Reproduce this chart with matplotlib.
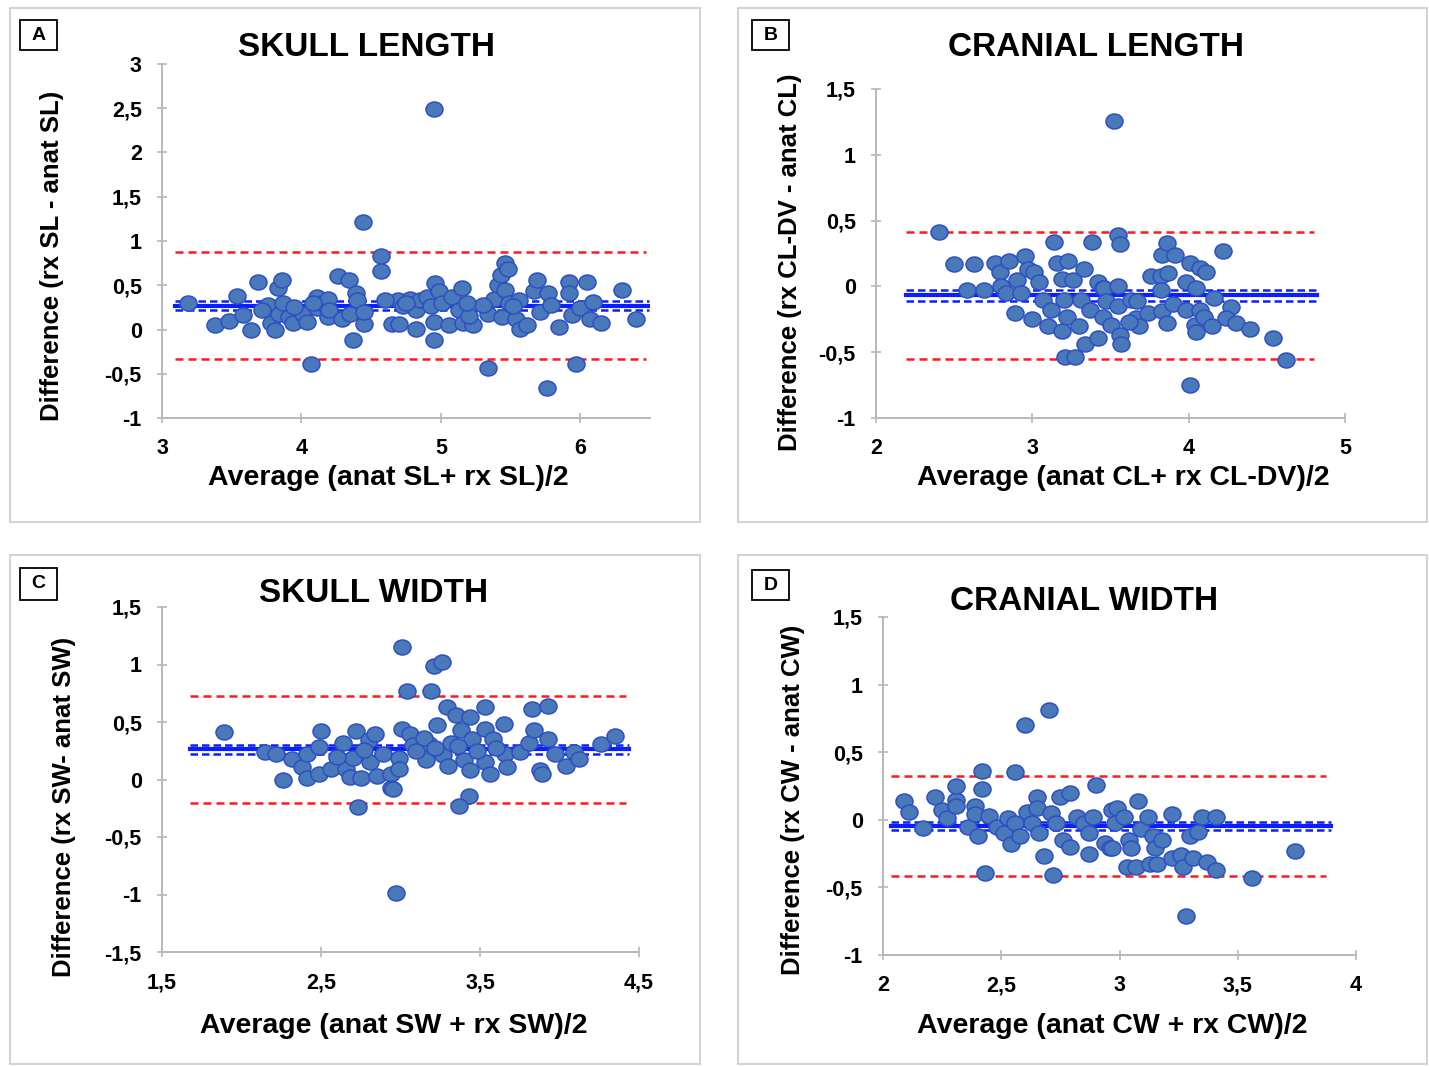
import matplotlib
matplotlib.use("Agg")
import matplotlib.pyplot as plt
from matplotlib.patches import Rectangle
from matplotlib.path import Path
from matplotlib.ticker import FuncFormatter
import numpy as np

W, H = 1429, 1066

# ---------------- DATA ----------------
# Panel A: Skull length
a_x = [3.19, 3.38, 3.48, 3.54, 3.58, 3.64, 3.69, 3.76, 3.78, 3.81, 3.83, 3.86, 3.84, 3.87, 3.91,
       3.94, 4.01, 4.04, 4.07, 4.11, 4.11, 4.14, 4.19, 4.19, 4.20, 4.26, 4.29, 4.34, 4.35, 4.37,
       4.39, 4.40, 4.44, 4.45, 4.57, 4.57, 4.65, 4.70, 4.69, 4.73, 4.78, 4.82, 4.82, 4.85, 4.90,
       4.95, 4.95, 4.95, 4.96, 4.93, 4.99, 5.01, 5.06, 5.08, 5.13, 5.15, 5.16, 5.23, 5.34, 5.34,
       5.38, 5.41, 5.43, 5.46, 5.48, 5.44, 5.46, 5.49, 5.54, 5.56, 5.57, 5.62, 5.67, 5.69, 5.71,
       5.76, 5.77, 5.79, 5.85, 5.92, 5.92, 5.94, 5.97, 6.00, 6.05, 6.07, 6.09, 6.15, 6.30, 6.40,
       4.60, 4.75, 5.20, 5.30, 3.95, 4.45, 5.19, 3.72, 4.08, 5.52]
a_y = [0.30, 0.05, 0.10, 0.38, 0.16, 0.00, 0.54, 0.28, 0.07, -0.01, 0.47, 0.56, 0.18, 0.30, 0.14,
       0.07, 0.18, 0.09, -0.39, 0.37, 0.24, 0.30, 0.35, 0.14, 0.22, 0.61, 0.12, 0.56, 0.18, -0.12,
       0.41, 0.33, 1.22, 0.06, 0.83, 0.66, 0.06, 0.06, 0.33, 0.26, 0.35, 0.01, 0.22, 0.33, 0.37,
       2.49, 0.09, -0.12, 0.53, 0.26, 0.43, 0.30, 0.05, 0.37, 0.22, 0.47, 0.07, 0.05, 0.18, -0.43,
       0.35, 0.50, 0.62, 0.75, 0.68, 0.14, 0.45, 0.30, 0.12, 0.33, 0.01, 0.05, 0.43, 0.56, 0.20,
       -0.66, 0.41, 0.28, 0.03, 0.54, 0.41, 0.16, -0.39, 0.24, 0.54, 0.12, 0.31, 0.07, 0.45, 0.12,
       0.33, 0.30, 0.15, 0.28, 0.25, 0.20, 0.30, 0.22, 0.30, 0.26]

# Panel B: Cranial length
b_x = [2.40, 2.50, 2.63, 2.58, 2.69, 2.76, 2.79, 2.85, 2.80, 2.83, 2.90, 2.95, 2.97, 3.01, 2.89,
       2.93, 3.00, 3.04, 3.07, 3.10, 3.12, 3.14, 3.16, 3.19, 3.20, 3.19, 3.22, 3.23, 3.21, 3.27,
       3.26, 3.30, 3.31, 3.33, 3.34, 3.37, 3.38, 3.42, 3.42, 3.45, 3.45, 3.52, 3.55, 3.56, 3.46,
       3.55, 3.47, 3.55, 3.50, 3.56, 3.57, 3.63, 3.67, 3.66, 3.68, 3.62, 3.74, 3.76, 3.82, 3.82,
       3.83, 3.86, 3.91, 3.87, 3.83, 3.86, 3.90, 3.98, 3.98, 4.01, 4.05, 4.07, 4.11, 4.04, 4.05,
       4.07, 4.10, 4.15, 4.16, 4.22, 4.27, 4.24, 4.30, 4.39, 4.54, 4.62, 4.01]
b_y = [0.41, 0.17, 0.17, -0.03, -0.03, 0.18, 0.11, 0.19, 0.00, -0.05, 0.05, 0.23, 0.13, 0.11, -0.20,
       -0.05, -0.25, 0.03, -0.10, -0.30, -0.18, 0.34, 0.18, 0.06, -0.10, -0.34, -0.23, 0.19, -0.54, -0.54,
       0.05, -0.30, -0.10, 0.13, -0.44, -0.18, 0.34, -0.39, 0.03, -0.01, -0.23, 1.26, 0.39, 0.32, -0.01,
       0.00, -0.11, -0.15, -0.29, -0.37, -0.44, -0.10, -0.11, -0.24, -0.30, -0.27, -0.20, 0.08, 0.08, -0.03,
       0.24, 0.33, 0.24, 0.10, -0.19, -0.28, -0.13, -0.18, 0.03, 0.18, -0.01, 0.14, 0.11, -0.29, -0.35,
       -0.18, -0.23, -0.30, -0.09, 0.27, -0.16, -0.24, -0.28, -0.32, -0.39, -0.56, -0.75]

# Panel C: Skull width
c_x = [1.89, 2.15, 2.22, 2.26, 2.32, 2.38, 2.41, 2.41, 2.49, 2.50, 2.49, 2.56, 2.64, 2.66, 2.68,
       2.72, 2.75, 2.73, 2.70, 2.80, 2.81, 2.84, 2.85, 2.89, 2.94, 2.94,
       3.01, 3.21, 3.26, 3.04, 3.19, 2.97, 3.01, 3.06, 3.08, 2.99, 2.99, 2.95, 3.16, 3.18, 3.23,
       3.27, 3.29, 3.35, 3.32, 3.38, 3.40, 3.43, 3.37, 3.44, 3.44, 3.45, 3.53, 3.53, 3.53, 3.56,
       3.58, 3.65, 3.66, 3.67, 3.75, 3.81, 3.83, 3.84, 3.88, 3.89, 3.93, 3.93, 3.97, 4.04, 4.09,
       4.12, 4.26, 4.35, 3.10, 3.15, 3.22, 3.30, 3.36, 3.48, 3.60, 2.60, 2.77]
c_y = [0.41, 0.24, 0.22, 0.00, 0.18, 0.11, 0.22, 0.01, 0.28, 0.42, 0.05, 0.09, 0.32, 0.09, 0.02,
       0.42, 0.01, -0.24, 0.19, 0.34, 0.15, 0.40, 0.03, 0.22, 0.05, -0.07,
       1.15, 0.99, 1.02, 0.77, 0.77, -0.99, 0.44, 0.40, 0.30, 0.19, 0.09, -0.08, 0.17, 0.31, 0.47,
       0.21, 0.63, 0.56, 0.32, 0.43, 0.17, -0.14, -0.23, 0.54, 0.08, 0.35, 0.63, 0.44, 0.15, 0.05,
       0.35, 0.48, 0.22, 0.11, 0.24, 0.32, 0.61, 0.43, 0.08, 0.05, 0.64, 0.35, 0.22, 0.12, 0.24,
       0.18, 0.31, 0.38, 0.25, 0.36, 0.27, 0.12, 0.29, 0.25, 0.27, 0.20, 0.26]

# Panel D: Cranial width
d_x = [2.09, 2.11, 2.17, 2.22, 2.25, 2.27, 2.31, 2.31, 2.31, 2.36, 2.39, 2.39, 2.40, 2.42, 2.42,
       2.43, 2.45, 2.48, 2.51, 2.54, 2.53, 2.56, 2.56, 2.58, 2.60, 2.61, 2.65, 2.65, 2.63, 2.66,
       2.68, 2.70, 2.71, 2.72, 2.73, 2.75, 2.79, 2.76, 2.79, 2.82, 2.85, 2.87, 2.87, 2.90, 2.89,
       2.94, 2.96, 2.97,
       2.99, 2.98, 2.97, 3.02, 3.04, 3.05, 3.03, 3.07, 3.08, 3.09, 3.12, 3.14, 3.15, 3.13, 3.16,
       3.18, 3.22, 3.22, 3.26, 3.27, 3.28, 3.30, 3.31, 3.33, 3.35, 3.37, 3.41, 3.41, 3.56, 3.74]
d_y = [0.14, 0.06, -0.06, 0.17, 0.07, 0.01, 0.15, 0.25, 0.10, -0.05, 0.10, 0.04, -0.12, 0.36, 0.23,
       -0.39, 0.03, -0.05, -0.10, -0.18, 0.01, 0.35, -0.02, -0.12, 0.70, 0.06, 0.17, 0.09, -0.02, -0.10,
       -0.27, 0.81, 0.05, -0.41, -0.02, 0.17, 0.20, -0.15, -0.20, 0.02, -0.02, -0.10, -0.25, 0.26, 0.02,
       -0.17, -0.21, 0.07,
       0.09, -0.02, -0.21, 0.02, -0.15, -0.21, -0.35, -0.35, 0.14, -0.07, 0.02, -0.12, -0.21, -0.33, -0.33,
       -0.15, 0.04, -0.28, -0.26, -0.35, -0.71, -0.12, -0.28, -0.09, 0.02, -0.31, -0.37, 0.02, -0.43, -0.23]

# Bias (mean), its 95% CI, limits of agreement, and line span
a_stats = dict(mean=0.27, ci_lo=0.22, ci_hi=0.32, loa_lo=-0.337, loa_hi=0.874, span=(3.09, 6.47))
b_stats = dict(mean=-0.068, ci_lo=-0.109, ci_hi=-0.025, loa_lo=-0.552, loa_hi=0.415, span=(2.19, 4.80))
c_stats = dict(mean=0.267, ci_lo=0.223, ci_hi=0.304, loa_lo=-0.20, loa_hi=0.73, span=(1.676, 4.42))
d_stats = dict(mean=-0.044, ci_lo=-0.079, ci_hi=-0.015, loa_lo=-0.419, loa_hi=0.325, span=(2.035, 3.875))

titles = ["SKULL LENGTH", "CRANIAL LENGTH", "SKULL WIDTH", "CRANIAL WIDTH"]
letters = ["A", "B", "C", "D"]
xlabels = ["Average (anat SL+ rx SL)/2", "Average (anat CL+ rx CL-DV)/2",
           "Average (anat SW + rx SW)/2", "Average (anat CW + rx CW)/2"]
ylabels = ["Difference (rx SL - anat SL)", "Difference (rx CL-DV - anat CL)",
           "Difference (rx SW- anat SW)", "Difference (rx CW - anat CW)"]
xticks = [[3, 4, 5, 6], [2, 3, 4, 5], [1.5, 2.5, 3.5, 4.5], [2, 2.5, 3, 3.5, 4]]
yticks = [[-1, -0.5, 0, 0.5, 1, 1.5, 2, 2.5, 3], [-1, -0.5, 0, 0.5, 1, 1.5],
          [-1.5, -1, -0.5, 0, 0.5, 1, 1.5], [-1, -0.5, 0, 0.5, 1, 1.5]]
xlims = [(3, 6.5), (2, 5), (1.5, 4.5), (2, 4)]
ylims = [(-1, 3), (-1, 1.5), (-1.5, 1.5), (-1, 1.5)]

# ---------------- LAYOUT (pixels) ----------------
axes_px = [(162, 64, 650, 418), (876, 89, 1345, 418), (162, 607, 639, 952), (883, 617, 1356, 955)]
frames_px = [(10, 8, 700, 522), (738, 8, 1427, 522), (10, 555, 700, 1064), (738, 555, 1427, 1064)]
letter_px = [(20, 20, 57, 50), (752, 20, 789, 50), (20, 568, 57, 600), (752, 570, 789, 600)]
title_px = [(367, 47), (1096, 47), (374, 594), (1084, 601)]
xlab_px = [(388, 478), (1123, 478), (394, 1026), (1112, 1026)]
ylab_px = [(52, 256), (790, 262), (64, 807), (793, 800)]

plt.rcParams['font.family'] = ['Liberation Sans', 'DejaVu Sans']
fig = plt.figure(figsize=(W / 100, H / 100), dpi=100)
fig.patch.set_facecolor('white')


def fx(x):
    return x / W


def fy(y):
    return 1 - y / H


def fmt(v, pos=None):
    s = ('%g' % v).replace('.', ',')
    return s


# ellipse marker (slightly wider than tall)
circ = Path.unit_circle()
ell = Path(circ.vertices * np.array([1.0, 0.88]), circ.codes)

datasets = [(a_x, a_y, a_stats), (b_x, b_y, b_stats), (c_x, c_y, c_stats), (d_x, d_y, d_stats)]

for i in range(4):
    # panel frame
    x0, y0, x1, y1 = frames_px[i]
    fig.patches.append(Rectangle((fx(x0), fy(y1)), fx(x1 - x0), (y1 - y0) / H, transform=fig.transFigure,
                                 fill=False, edgecolor='#d4d4d4', linewidth=1.5, zorder=0))
    # letter box
    x0, y0, x1, y1 = letter_px[i]
    fig.patches.append(Rectangle((fx(x0), fy(y1)), fx(x1 - x0), (y1 - y0) / H, transform=fig.transFigure,
                                 fill=True, facecolor='white', edgecolor='black', linewidth=1.3, zorder=3))
    fig.text(fx((x0 + x1) / 2), fy((y0 + y1) / 2), letters[i], ha='center', va='center',
             fontsize=14, fontweight='bold', zorder=4)

    l, t, r, b = axes_px[i]
    ax = fig.add_axes([fx(l), fy(b), (r - l) / W, (b - t) / H])
    ax.set_facecolor('none')
    xs, ys, st = datasets[i]
    lo, hi = st['span']
    ax.plot([lo, hi], [st['loa_hi'], st['loa_hi']], color='#ff1a1a', lw=1.8, dashes=(3.2, 2.0), zorder=2)
    ax.plot([lo, hi], [st['loa_lo'], st['loa_lo']], color='#ff1a1a', lw=1.8, dashes=(3.2, 2.0), zorder=2)
    ax.plot([lo, hi + 0.02], [st['mean'], st['mean']], color='#0a1eff', lw=3.0, zorder=2)
    ax.plot([lo, hi + 0.02], [st['ci_hi'], st['ci_hi']], color='#0a1eff', lw=1.8, dashes=(3.0, 1.6), zorder=2)
    ax.plot([lo, hi + 0.02], [st['ci_lo'], st['ci_lo']], color='#0a1eff', lw=1.8, dashes=(3.0, 1.6), zorder=2)
    ax.scatter(xs, ys, s=150, marker=ell, facecolor='#4a79b9', edgecolor='#2d4fc4', linewidth=1.1, zorder=3)

    ax.set_xlim(*xlims[i])
    ax.set_ylim(*ylims[i])
    ax.set_xticks(xticks[i])
    ax.set_yticks(yticks[i])
    ax.xaxis.set_major_formatter(FuncFormatter(fmt))
    ax.yaxis.set_major_formatter(FuncFormatter(fmt))
    for sp in ['top', 'right']:
        ax.spines[sp].set_visible(False)
    for sp in ['left', 'bottom']:
        ax.spines[sp].set_color('#b8b8b8')
        ax.spines[sp].set_linewidth(1.4)
    ax.tick_params(axis='both', direction='inout', length=7, width=1.2, color='#b8b8b8',
                   labelsize=15.5)
    for lab in ax.get_xticklabels() + ax.get_yticklabels():
        lab.set_fontweight('bold')
    ax.tick_params(axis='y', pad=11)
    ax.tick_params(axis='x', pad=11)

    fig.text(fx(title_px[i][0]), fy(title_px[i][1]), titles[i], ha='center', va='center',
             fontsize=24, fontweight='bold')
    fig.text(fx(xlab_px[i][0]), fy(xlab_px[i][1]), xlabels[i], ha='center', va='center',
             fontsize=20.5, fontweight='bold')
    fig.text(fx(ylab_px[i][0]), fy(ylab_px[i][1]), ylabels[i], ha='center', va='center',
             fontsize=18.5, fontweight='bold', rotation=90)

fig.savefig('out.png', dpi=100, facecolor='white')
